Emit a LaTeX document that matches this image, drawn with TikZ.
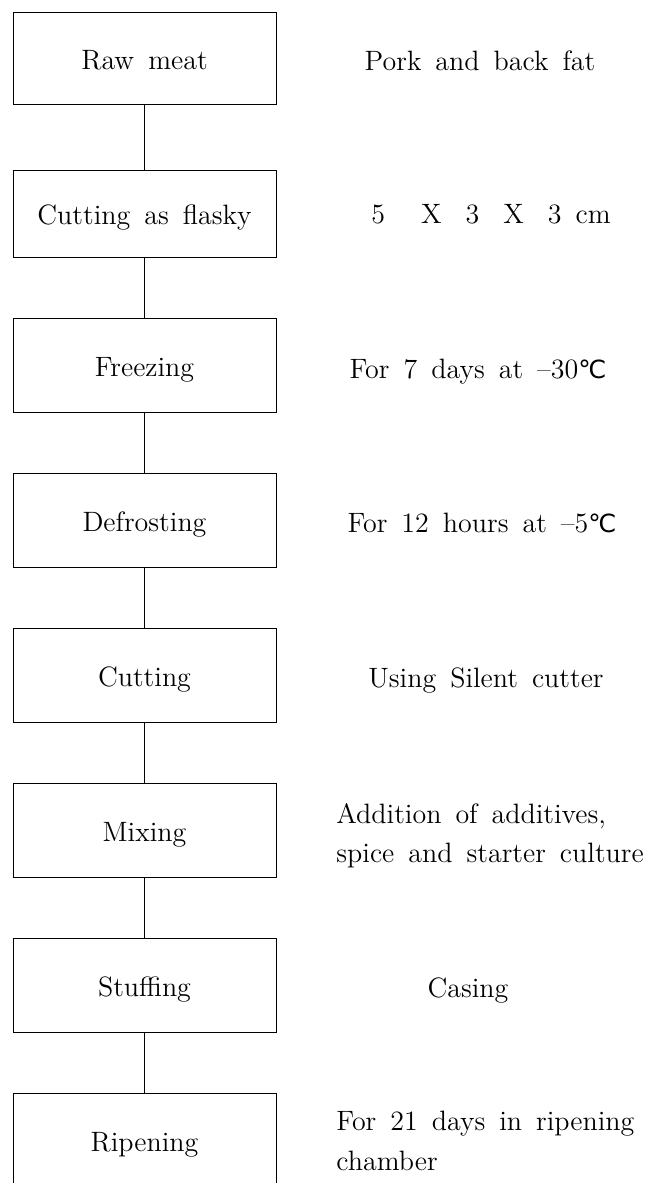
\documentclass[tikz,border=0pt]{standalone}
\usepackage{fontspec}
\usetikzlibrary{positioning}
\newfontfamily\symfont{DejaVu Sans}
\newcommand{\tempC}{{\symfont\fontsize{12.5}{14}\selectfont ℃}}

\begin{document}
\begin{tikzpicture}[x=0.5pt,y=-0.5pt,
    font={\fontsize{14}{19.5}\selectfont\spaceskip=0.5em\relax},
    box/.style={draw, line width=0.5pt, minimum width=131.5pt, minimum height=47pt,
        inner sep=0pt, text height=12pt, text depth=1pt},
    note/.style={inner sep=0pt, anchor=base}]
\path[use as bounding box, clip] (0,0) rectangle (646,1183);

    % process steps
    \node[box, minimum height=46pt] (raw) at (144.5,58) {Raw meat};
    \node[box, minimum height=43.5pt] (flasky) at (144.5,213.5) {Cutting as flasky};
    \node[box] (freeze) at (144.5,365) {Freezing};
    \node[box] (defrost) at (144.5,520) {Defrosting};
    \node[box] (cut) at (144.5,675) {Cutting};
    \node[box] (mix) at (144.5,830) {Mixing};
    \node[box] (stuff) at (144.5,985) {Stuffing};
    \node[box] (ripen) at (144.5,1140) {Ripening};

    % conditions
    \node[note] (porkfat) at (480,70) {Pork and back fat};
    \node[note] (size) at (491,223) {5\hspace{18pt}X\hspace{12pt}3\hspace{12pt}X\hspace{12pt}3 cm};
    \node[note] (freezecond) at (478,378) {For 7 days at --30\tempC};
    \node[note] (defrostcond) at (482,532) {For 12 hours at --5\tempC};
    \node[note] (cutter) at (486,687) {Using Silent cutter};
    \node[note, anchor=north west, align=left] (additives) at (336,803)
        {Addition of additives,\\ spice and starter culture};
    \node[note] (casing) at (468,997) {Casing};
    \node[note, anchor=north west, align=left,
        font={\fontsize{14}{20}\selectfont\spaceskip=0.5em\relax}] (chamber) at (336,1111)
        {For 21 days in ripening\\ chamber};

    % connect the steps
    \draw[line width=0.5pt] (raw) -- (flasky);
    \draw[line width=0.5pt] (flasky) -- (freeze);
    \draw[line width=0.5pt] (freeze) -- (defrost);
    \draw[line width=0.5pt] (defrost) -- (cut);
    \draw[line width=0.5pt] (cut) -- (mix);
    \draw[line width=0.5pt] (mix) -- (stuff);
    \draw[line width=0.5pt] (stuff) -- (ripen);

\end{tikzpicture}
\end{document}
